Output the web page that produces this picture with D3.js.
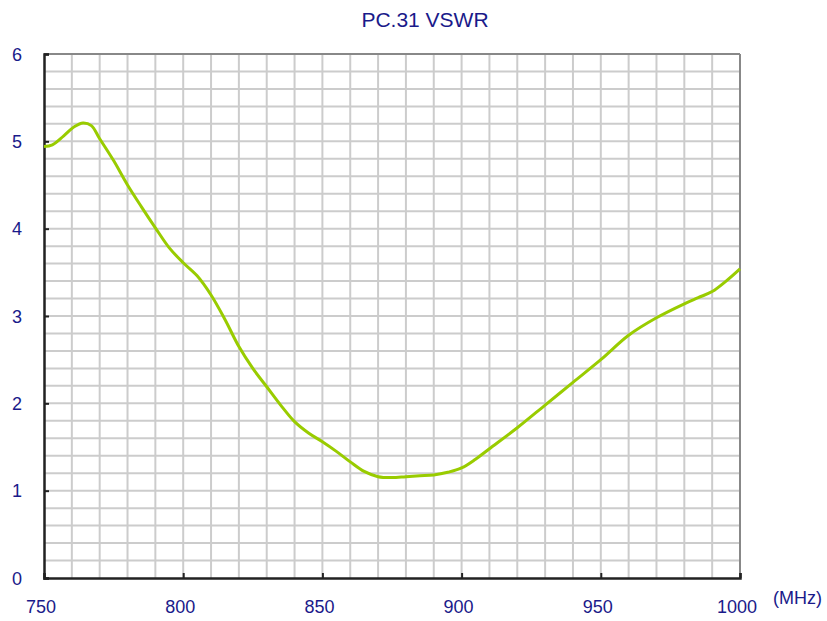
<!DOCTYPE html>
<html><head><meta charset="utf-8">
<script src="https://cdn.jsdelivr.net/npm/d3@7"></script>
<style>body{margin:0;background:#fff}svg{display:block;font-family:Arial,"Liberation Sans",sans-serif}</style>
</head><body>
<svg id="c" width="827" height="621"></svg>
<script>
const title = "PC.31 VSWR";
const xUnit = "(MHz)";
const xTicks = [750, 800, 850, 900, 950, 1000];
const yTicks = [0, 1, 2, 3, 4, 5, 6];
const freq = [750, 753, 757, 761, 764, 767, 770, 775, 780, 785, 790, 795, 800, 805, 810, 815, 820, 825, 830, 835, 840, 845, 850, 855, 860, 865, 870, 875, 880, 885, 890, 895, 900, 905, 910, 920, 930, 940, 950, 960, 970, 980, 985, 990, 995, 1000];
const vswr = [4.94, 4.96, 5.06, 5.17, 5.21, 5.18, 5.03, 4.78, 4.50, 4.25, 4.01, 3.78, 3.61, 3.46, 3.24, 2.96, 2.65, 2.40, 2.19, 1.98, 1.79, 1.66, 1.56, 1.45, 1.33, 1.22, 1.16, 1.15, 1.16, 1.17, 1.18, 1.21, 1.26, 1.36, 1.48, 1.72, 1.98, 2.24, 2.50, 2.78, 2.98, 3.14, 3.21, 3.28, 3.40, 3.54];

const svg = d3.select("#c");
const L = 44, R = 740, T = 54, B = 578;
const x = d3.scaleLinear().domain([750, 1000]).range([L, R]);
const y = d3.scaleLinear().domain([0, 6]).range([B, T]);
const navy = "#1a1a8a";

// grid
const gx = d3.range(760, 1000, 10), gy = d3.range(0.2, 6, 0.2);
svg.append("g").selectAll("line").data(gx).join("line")
  .attr("x1", d => x(d)).attr("x2", d => x(d)).attr("y1", T).attr("y2", B)
  .attr("stroke", "#cccccc").attr("stroke-width", 2);
svg.append("g").selectAll("line").data(gy).join("line")
  .attr("y1", d => y(d)).attr("y2", d => y(d)).attr("x1", L).attr("x2", R)
  .attr("stroke", "#cccccc").attr("stroke-width", 2);

// frame top/right
svg.append("line").attr("x1", L).attr("x2", R).attr("y1", T).attr("y2", T).attr("stroke", "#888").attr("stroke-width", 2);
svg.append("line").attr("x1", R).attr("x2", R).attr("y1", T).attr("y2", B).attr("stroke", "#888").attr("stroke-width", 2);

// axes
const ya = svg.append("g").attr("transform", `translate(${L},0)`)
  .call(d3.axisLeft(y).tickValues(yTicks).tickSize(-5).tickFormat(d3.format("d")));
const xa = svg.append("g").attr("transform", `translate(0,${B})`)
  .call(d3.axisBottom(x).tickValues(xTicks).tickSize(-5).tickFormat(d3.format("d")));
[ya, xa].forEach(a => {
  a.attr("font-size", 18).attr("font-family", "Arial, 'Liberation Sans', sans-serif");
  a.select(".domain").attr("stroke", "#222").attr("stroke-width", 2.5);
  a.selectAll(".tick line").attr("stroke", "#222").attr("stroke-width", 2);
  a.selectAll("text").attr("fill", navy);
});
ya.selectAll("text").attr("x", -22).attr("text-anchor", "end").attr("dy", "0.35em");
xa.selectAll("text").attr("y", 22).attr("dx", -3.5);

// line
svg.append("path").datum(freq.map((f, i) => [f, vswr[i]]))
  .attr("d", d3.line().x(d => x(d[0])).y(d => y(d[1])).curve(d3.curveCatmullRom))
  .attr("fill", "none").attr("stroke", "#99cc00").attr("stroke-width", 3);

// title & unit
svg.append("text").attr("x", 425).attr("y", 27).attr("text-anchor", "middle")
  .attr("fill", navy).attr("font-size", 21).text(title);
svg.append("text").attr("x", 773).attr("y", 604).attr("fill", navy).attr("font-size", 18).text(xUnit);
</script>
</body></html>
